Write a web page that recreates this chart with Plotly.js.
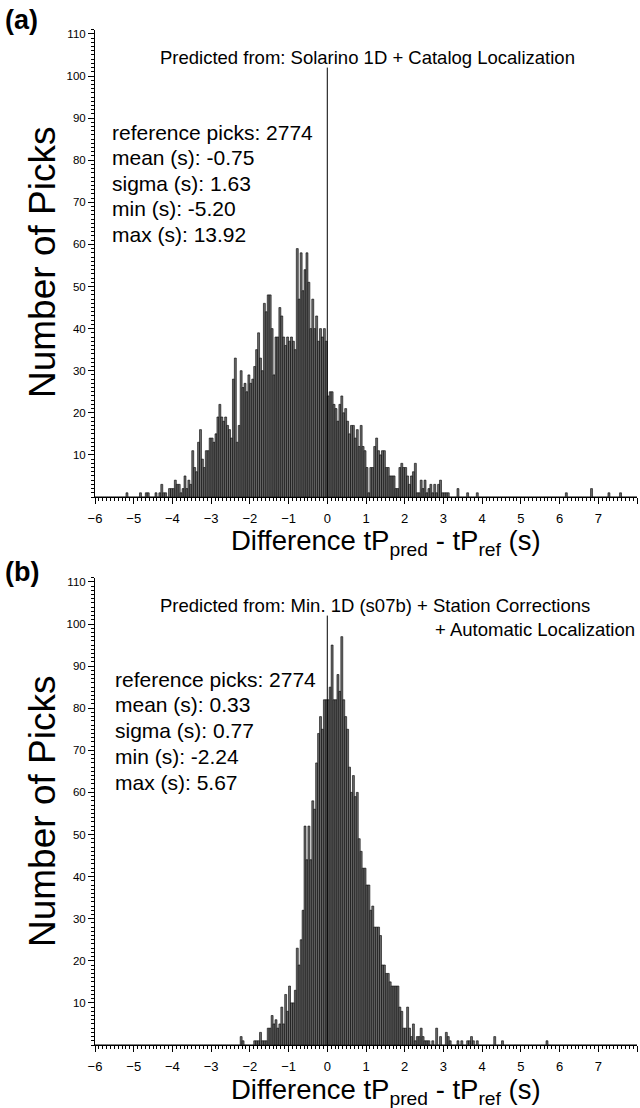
<!DOCTYPE html>
<html><head><meta charset="utf-8">
<script src="https://cdn.plot.ly/plotly-3.0.1.min.js"></script>
<style>html,body{margin:0;padding:0;background:#fff;} #chart{width:640px;height:1108px;}</style>
</head><body><div id="chart"></div>
<script>
// histogram bins: 0.05 s wide, first bin starts at -6.0 s
const binWidth = 0.05;
const binStart = -6.0;

// Panel (a): Solarino 1D + Catalog Localization (one row per second, -6 .. 7)
const countsA = [
  0,0,0,0,0,0,0,0,0,0,0,0,0,0,0,0,1,0,0,0,
  0,0,0,1,0,0,1,1,0,0,0,1,0,1,3,1,1,0,2,2,
  2,4,3,3,1,2,5,2,4,3,11,7,6,13,16,9,7,11,11,14,
  14,13,15,19,22,19,18,19,17,16,14,28,33,13,17,30,26,27,25,29,
  27,28,31,35,39,33,30,46,44,48,48,40,29,38,38,45,43,38,36,38,
  37,38,37,35,59,47,58,49,54,58,51,40,47,40,43,37,40,38,40,37,
  24,25,25,22,21,18,22,24,20,21,18,15,17,17,14,16,12,17,12,11,
  7,1,7,7,12,14,11,10,11,11,7,7,5,5,5,2,2,7,8,7,
  7,5,3,5,6,8,1,1,4,2,4,1,2,3,1,3,1,3,4,1,
  1,1,1,0,0,0,0,2,0,0,0,0,1,0,0,0,0,1,0,0,
  0,0,0,0,0,0,0,0,0,0,0,0,0,0,0,0,0,0,0,0,
  0,0,0,0,0,0,0,0,0,0,0,0,0,0,0,0,0,0,0,0,
  0,0,0,1,0,0,0,0,0,0,0,0,0,0,0,0,2,0,0,0,
  0,0,0,0,0,1,0,0,0,0,0,1,0,0,0,0,0,0,0,0
];

// Panel (b): Min. 1D (s07b) + Station Corrections + Automatic Localization
const countsB = [
  0,0,0,0,0,0,0,0,0,0,0,0,0,0,0,0,0,0,0,0,
  0,0,0,0,0,0,0,0,0,0,0,0,0,0,0,0,0,0,0,0,
  0,0,0,0,0,0,0,0,0,0,0,0,0,0,0,0,0,0,0,0,
  0,0,0,0,0,0,0,0,0,0,0,0,0,0,0,2,1,0,0,0,
  0,0,1,1,1,3,1,1,1,4,4,7,5,6,4,5,9,5,12,8,
  14,10,10,13,23,19,25,32,52,44,52,44,58,56,67,74,78,75,82,82,
  82,85,95,82,82,88,84,97,82,78,75,66,60,64,59,60,49,46,42,42,
  38,38,32,33,28,28,28,26,19,19,17,17,15,14,14,14,14,9,8,4,
  4,9,4,2,5,1,2,2,4,2,1,1,1,0,1,0,4,0,2,0,
  0,3,2,1,0,0,0,1,0,1,0,0,1,1,2,1,0,1,0,0,
  0,0,0,0,0,0,2,0,0,0,1,0,0,0,0,0,0,0,0,0,
  0,0,0,0,0,0,0,0,0,0,0,0,0,1,0,0,0,0,0,0,
  0,0,0,0,0,0,0,0,0,0,0,0,0,0,0,0,0,0,0,0,
  0,0,0,0,0,0,0,0,0,0,0,0,0,0,0,0,0,0,0,0
];

const xTickVals = [-6,-5,-4,-3,-2,-1,0,1,2,3,4,5,6,7,8];
const yTickVals = [10,20,30,40,50,60,70,80,90,100,110];
const refLineTop = 102;

const panelLabels = ["(a)", "(b)"];
const titleA = ["Predicted from: Solarino 1D + Catalog Localization"];
const titleB = ["Predicted from: Min. 1D (s07b) + Station Corrections", "+ Automatic Localization"];
const statsA = ["reference picks: 2774", "mean (s): -0.75", "sigma (s): 1.63", "min (s): -5.20", "max (s): 13.92"];
const statsB = ["reference picks: 2774", "mean (s): 0.33", "sigma (s): 0.77", "min (s): -2.24", "max (s): 5.67"];
const xTitle = "Difference tP<sub>pred</sub> - tP<sub>ref</sub> (s)";
const yTitle = "Number of Picks";

const W = 640, H = 1108, L = 95, R = 3;
const FONT = "Liberation Sans, Arial, Helvetica, sans-serif";
const px = x => (x - L) / (W - L - R);
const py = y => 1 - y / H;

function barTrace(counts, xa, ya) {
  return {
    type: "bar", x0: binStart + binWidth / 2, dx: binWidth, y: counts,
    width: binWidth, xaxis: xa, yaxis: ya,
    marker: {color: "#6c6c6c", line: {color: "#000", width: 0.6}},
    hoverinfo: "x+y", showlegend: false
  };
}

function xAxis(anchor) {
  return {
    anchor: anchor, domain: [0, 1], range: [-6, 8], tickmode: "array", tickvals: xTickVals,
    ticks: "outside", ticklen: 6, tickwidth: 1, tickcolor: "#000", ticklabelstandoff: 3,
    showline: true, linecolor: "#000", linewidth: 1, showgrid: false, zeroline: false,
    tickfont: {size: 13, color: "#000", family: FONT},
    minor: {tickmode: "linear", tick0: 0, dtick: 0.1, ticks: "outside", ticklen: 3, tickcolor: "#000", tickwidth: 1, showgrid: false}
  };
}
function yAxis(anchor, dom) {
  return {
    anchor: anchor, domain: dom, range: [0, 111], tickmode: "array", tickvals: yTickVals,
    ticks: "outside", ticklen: 6, tickwidth: 1, tickcolor: "#000",
    showline: true, linecolor: "#000", linewidth: 1, showgrid: false, zeroline: false,
    tickfont: {size: 11.5, color: "#000", family: FONT},
    minor: {tickmode: "linear", tick0: 0, dtick: 1, ticks: "outside", ticklen: 3, tickcolor: "#000", tickwidth: 1, showgrid: false}
  };
}

// pixel layout of the two panels
const baseA = 497, baseB = 1045, pxPerCount = 4.21;
const domA = [py(baseA), py(baseA - 111 * pxPerCount)];
const domB = [py(baseB), py(baseB - 111 * pxPerCount)];

const ann = [];
function addText(text, x, y, size, opts) {
  ann.push(Object.assign({text: text, xref: "paper", yref: "paper", x: px(x), y: py(y),
    showarrow: false, xanchor: "left", yanchor: "middle",
    font: {size: size, color: "#000", family: FONT}}, opts || {}));
}
addText("<b>" + panelLabels[0] + "</b>", 3, 20, 27);
addText("<b>" + panelLabels[1] + "</b>", 3, 572, 27);
addText(titleA[0], 158, 58, 18.5);
addText(titleB[0], 158, 605, 18.5);
addText(titleB[1], 433, 629, 18.5);
statsA.forEach((s, i) => addText(s, 110, 132 + i * 25.6, 21));
statsB.forEach((s, i) => addText(s, 113, 679 + i * 25.9, 21));
addText(xTitle, 386, 542, 27.5, {xanchor: "center"});
addText(xTitle, 386, 1091, 27.5, {xanchor: "center"});
addText(yTitle, 42, 263, 37, {xanchor: "center", textangle: -90});
addText(yTitle, 42, 812, 37, {xanchor: "center", textangle: -90});

const shapes = [["x", "y"], ["x2", "y2"]].map(([xa, ya]) => ({
  type: "line", xref: xa, yref: ya, x0: 0, x1: 0, y0: 0, y1: refLineTop,
  line: {color: "#000", width: 1}
}));

const layout = {
  width: W, height: H, margin: {l: L, r: R, t: 0, b: 0},
  paper_bgcolor: "#fff", plot_bgcolor: "#fff", bargap: 0,
  font: {family: FONT, color: "#000"},
  xaxis: xAxis("y"), yaxis: yAxis("x", domA),
  xaxis2: xAxis("y2"), yaxis2: yAxis("x2", domB),
  annotations: ann, shapes: shapes, showlegend: false
};

Plotly.newPlot("chart", [barTrace(countsA, "x", "y"), barTrace(countsB, "x2", "y2")], layout, {staticPlot: true, displayModeBar: false});
</script></body></html>
